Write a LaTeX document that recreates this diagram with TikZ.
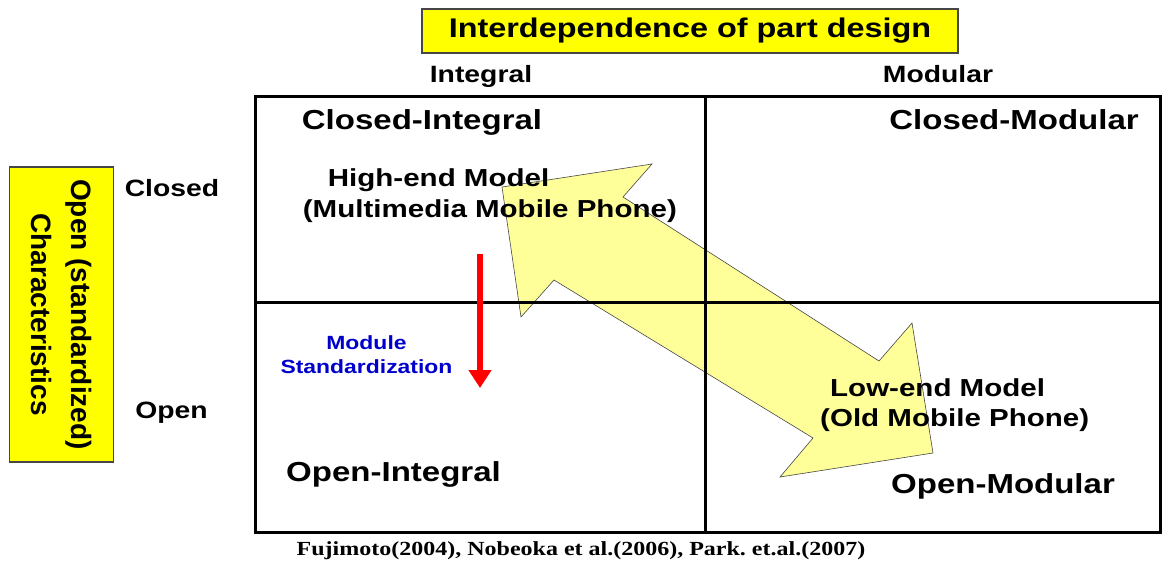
\documentclass[tikz,border=0pt]{standalone}
\usepackage{fontspec}
\usepackage{xcolor}
\usepackage{tikz}
\usetikzlibrary{arrows.meta}

\newfontfamily\wideface{Liberation Sans}[FakeStretch=1.2]
\newfontfamily\plainface{Liberation Sans}
\newfontfamily\citeface{Liberation Serif}[FakeStretch=1.2]
\frenchspacing

\definecolor{boxyellow}{RGB}{255,255,0}
\definecolor{paleyellow}{RGB}{255,255,153}
\definecolor{edgegray}{RGB}{70,70,70}
\definecolor{stdblue}{RGB}{0,0,204}

\begin{document}
\begin{tikzpicture}[x=1pt, y=-1pt,
    quad/.style={font=\wideface\bfseries\fontsize{27.5}{30}\selectfont, anchor=base, inner sep=0pt},
    axislabel/.style={font=\wideface\bfseries\fontsize{23.6}{28}\selectfont, anchor=base, inner sep=0pt},
    model/.style={font=\wideface\bfseries\fontsize{24.6}{30.5}\selectfont, align=left, anchor=west, inner sep=0pt},
    titlebox/.style={draw=edgegray, line width=1.2pt, fill=boxyellow, inner sep=0pt}]
    \useasboundingbox (0,0) rectangle (1162,568);

    % Shift between high-end and low-end models
    \fill[paleyellow, draw=edgegray, line width=0.6pt]
        (502,187) -- (652,164) -- (623,197) -- (879,361) -- (912,323)
        -- (933,453) -- (780,477) -- (813,438) -- (554,280) -- (521,317) -- cycle;

    % 2x2 grid
    \draw[line width=3pt] (255,96) rectangle (1160,532);
    \draw[line width=3pt] (705,96) -- (705,532);
    \draw[line width=3pt] (255,302) -- (1160,302);

    % Axis titles
    \node[titlebox, minimum width=536pt, minimum height=44pt, font=\wideface\bfseries\fontsize{27}{30}\selectfont] (design) at (690,31) {\raisebox{-1.5pt}{Interdependence of part design}};
    \node[titlebox, rotate=-90, minimum width=295pt, minimum height=104pt, align=center, font=\plainface\bfseries\fontsize{28}{40}\selectfont] (openness) at (61.5,314.5) {Open (standardized)\\Characteristics};

    \node[axislabel] (integral) at (481,82) {Integral};
    \node[axislabel] (modular) at (938,82) {Modular};
    \node[axislabel] (closed) at (172,196) {Closed};
    \node[axislabel] (open) at (171.5,418) {Open};

    % Quadrants
    \node[quad] (CI) at (422,129.3) {Closed-Integral};
    \node[quad] (CM) at (1014,129.3) {Closed-Modular};
    \node[quad] (OI) at (393.5,481.5) {Open-Integral};
    \node[quad] (OM) at (1003,493) {Open-Modular};

    % Models
    \node[model] (highend) at (302.7,195.8) {\hspace{25pt}High-end Model\\(Multimedia Mobile Phone)};
    \node[model] (lowend) at (820,405.3) {\hspace{10pt}Low-end Model\\(Old Mobile Phone)};

    % Module standardization
    \coordinate (stdTop) at (480,254);
    \coordinate (stdBot) at (480,388);
    \draw[red, line width=6pt, -{Triangle[width=22pt, length=18pt]}] (stdTop) -- (stdBot);
    \node[font=\wideface\bfseries\fontsize{19.1}{23.3}\selectfont, text=stdblue, align=center, inner sep=0pt] (stdlabel) at (366.5,354.7) {Module\\Standardization};

    \node[font=\citeface\bfseries\fontsize{20}{24}\selectfont, anchor=base, inner sep=0pt] (refs) at (581,555.7) {Fujimoto(2004), Nobeoka et al.(2006), Park. et.al.(2007)};
\end{tikzpicture}
\end{document}
